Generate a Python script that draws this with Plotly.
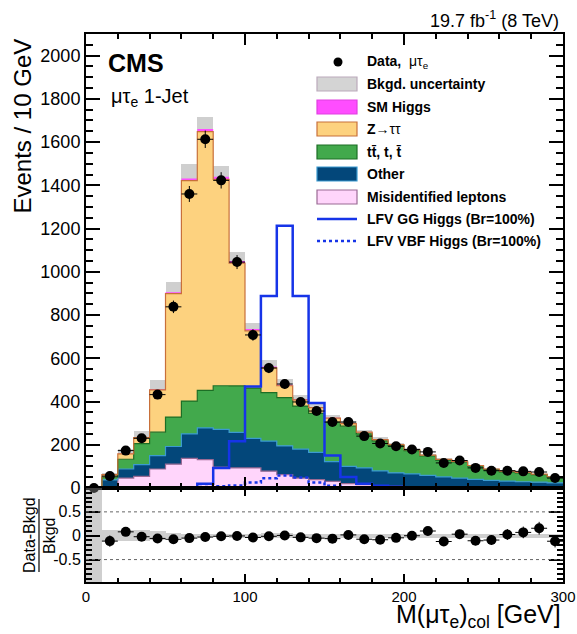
import numpy as np
import plotly.graph_objects as go

# ---------------- data ----------------
bin_edges = list(range(0, 310, 10))
bin_centers = [e + 5 for e in bin_edges[:-1]]

data_counts = [0, 55, 173, 230, 432, 838, 1360, 1613, 1423, 1045, 708, 555, 481, 398, 356,
               305, 305, 240, 206, 193, 178, 167, 116, 127, 93, 80, 80, 77, 74, 46]

misid_leptons = [0, 5, 46, 54, 88, 110, 137, 131, 97, 93, 93, 78, 62, 46, 39,
                 31, 20, 15, 11, 8, 6, 5, 4, 3, 3, 2, 2, 2, 1, 1]
other_bkg = [1, 33, 42, 54, 62, 82, 113, 147, 174, 164, 137, 139, 133, 134, 126,
             91, 80, 78, 68, 62, 59, 53, 47, 43, 37, 33, 30, 27, 26, 23]
ttbar_top = [0.5, 12, 45, 97, 108, 136, 152, 174, 202, 215, 232, 224, 223, 199, 180,
             183, 186, 157, 139, 126, 108, 90, 77, 73, 61, 50, 43, 41, 35, 26]
z_tautau = [0.5, 12, 25, 28, 196, 571, 1020, 1196, 955, 568, 265, 115, 55, 29, 27,
            18, 12, 8, 6, 5, 4.5, 4, 4, 4, 3, 3, 3, 2, 2, 2]
sm_higgs = [0, 0, 2, 2, 4, 6, 10, 12, 12, 10, 8, 6, 5, 4, 3,
            2, 2, 1, 1, 1, 0.5, 0, 0, 0, 0, 0, 0, 0, 0, 0]
bkg_rel_unc = [2.0, 0.12, 0.12, 0.12, 0.09, 0.055, 0.045, 0.035, 0.035, 0.04, 0.04, 0.05, 0.05, 0.045, 0.04,
               0.04, 0.04, 0.04, 0.04, 0.04, 0.04, 0.04, 0.04, 0.04, 0.04, 0.04, 0.04, 0.04, 0.04, 0.04]
lfv_gg_higgs = [0, 0, 0, 0, 0, 1, 3, 20, 93, 216, 470, 888, 1213, 888, 393,
                150, 51, 20, 10, 6, 4, 3, 2, 2, 1, 1, 1, 1, 0, 0]
lfv_vbf_higgs = [0, 0, 0, 0, 0, 0, 2, 5, 8, 12, 25, 45, 58, 48, 25,
                 10, 4, 2, 1, 1, 0, 0, 0, 0, 0, 0, 0, 0, 0, 0]

x_ticks = [0, 100, 200, 300]
y_ticks = list(range(0, 2001, 200))
ratio_ticks = [-0.5, 0, 0.5]
ratio_ticktext = ["-0.5", "0", "0.5"]

# ---------------- styling ----------------
FONT = "Liberation Sans, Arial, Helvetica, sans-serif"
W, H = 577, 634                        # browser window
L, R, T, B = 86, 563, 34, 582          # plot-area box in window pixels
SPLIT = 488                            # boundary between main and ratio pad
split_frac = (B - SPLIT) / (B - T)

components = [
    ("Misidentified leptons", misid_leptons, "#FFD5FB", "#9A6A94", 1.2),
    ("Other", other_bkg, "#03477A", "#3A9AD0", 1.2),
    ("tt̄, t, t̄", ttbar_top, "#42A94C", "#1C6E25", 1.2),
    ("Z→ττ", z_tautau, "#FDD27F", "#C8703A", 1.2),
    ("SM Higgs", sm_higgs, "#FF4DFF", "#FF4DFF", 0),
]
GG_BLUE = "#1634E8"


def px(x):
    return (x - L) / (R - L)


def py(y):
    return (B - y) / (B - T)


def step(vals):
    v = list(vals)
    return v + [v[-1]]


fig = go.Figure()

# stacked backgrounds
cum = np.zeros(len(bin_centers))
for i, (name, vals, fill, line, lw) in enumerate(components):
    cum = cum + np.array(vals, dtype=float)
    fig.add_trace(go.Scatter(
        x=bin_edges, y=step(cum), mode="lines", line=dict(color=line, width=lw, shape="hv"),
        fill="tozeroy" if i == 0 else "tonexty", fillcolor=fill, name=name,
        xaxis="x", yaxis="y", hoverinfo="skip"))
total_bkg = cum.copy()
unc = np.array(bkg_rel_unc)

# background uncertainty band
fig.add_trace(go.Bar(
    x=bin_centers, y=2 * total_bkg * unc, base=total_bkg * (1 - unc), width=10,
    marker=dict(color="rgba(140,140,140,0.42)", line=dict(width=0)),
    xaxis="x", yaxis="y", hoverinfo="skip"))

# LFV signals
fig.add_trace(go.Scatter(
    x=bin_edges, y=step(lfv_gg_higgs), mode="lines",
    line=dict(color=GG_BLUE, width=2.5, shape="hv"), xaxis="x", yaxis="y"))
fig.add_trace(go.Scatter(
    x=bin_edges, y=step(lfv_vbf_higgs), mode="lines",
    line=dict(color=GG_BLUE, width=2.5, shape="hv", dash="dot"), xaxis="x", yaxis="y"))

# data
data_arr = np.array(data_counts, dtype=float)
fig.add_trace(go.Scatter(
    x=bin_centers, y=data_counts, mode="markers",
    marker=dict(color="black", size=10),
    error_y=dict(type="data", array=np.sqrt(data_arr), color="black", thickness=1, width=0),
    error_x=dict(type="constant", value=5, color="black", thickness=1, width=0),
    cliponaxis=False, xaxis="x", yaxis="y"))

# ratio panel
fig.add_trace(go.Bar(
    x=bin_centers, y=2 * unc, base=-unc, width=10,
    marker=dict(color="rgba(140,140,140,0.42)", line=dict(width=0)),
    xaxis="x2", yaxis="y2", hoverinfo="skip"))
ratio = [None if d == 0 else (d - b) / b for d, b in zip(data_arr, total_bkg)]
ratio_err = [0 if d == 0 else np.sqrt(d) / b for d, b in zip(data_arr, total_bkg)]
fig.add_trace(go.Scatter(
    x=bin_centers, y=ratio, mode="markers", marker=dict(color="black", size=10),
    error_y=dict(type="data", array=ratio_err, color="black", thickness=1, width=0),
    error_x=dict(type="constant", value=5, color="black", thickness=1, width=0),
    xaxis="x2", yaxis="y2"))

shapes = []
for yv in [0.5, -0.5]:
    shapes.append(dict(type="line", xref="x2", yref="y2", x0=0, x1=300, y0=yv, y1=yv,
                       line=dict(color="#666666", width=1, dash="dot")))

# ---------------- manual legend ----------------
annotations = []
row_y = [62, 84, 107, 129, 152, 174, 197, 219, 241]
bx0, bx1, tx = 317, 357, 365
shapes.append(dict(type="circle", xref="paper", yref="paper",
                   x0=px(333.5), x1=px(342.5), y0=py(66.5), y1=py(57.5),
                   fillcolor="black", line=dict(color="black", width=0)))
annotations.append(dict(x=px(tx), y=py(row_y[0]), xref="paper", yref="paper",
                        text="<b>Data,</b>  μτ<sub>e</sub>", showarrow=False,
                        xanchor="left", yanchor="middle", font=dict(size=14, family=FONT)))
legend_boxes = [("<b>Bkgd. uncertainty</b>", "#D4D4D4", "#BBAABB"),
                ("<b>SM Higgs</b>", components[4][2], "#E040E0"),
                ("<b>Z</b>→ττ", components[3][2], components[3][3]),
                ("<b>tt̄, t, t̄</b>", components[2][2], components[2][3]),
                ("<b>Other</b>", components[1][2], components[1][3]),
                ("<b>Misidentified leptons</b>", components[0][2], components[0][3])]
for k, (label, fill, line) in enumerate(legend_boxes):
    yc = row_y[k + 1]
    shapes.append(dict(type="rect", xref="paper", yref="paper",
                       x0=px(bx0), x1=px(bx1), y0=py(yc + 7), y1=py(yc - 7),
                       fillcolor=fill, line=dict(color=line, width=1.2)))
    annotations.append(dict(x=px(tx), y=py(yc), xref="paper", yref="paper", text=label,
                            showarrow=False, xanchor="left", yanchor="middle",
                            font=dict(size=14, family=FONT)))
for k, (label, dash) in enumerate([("<b>LFV GG Higgs (Br=100%)</b>", "solid"),
                                   ("<b>LFV VBF Higgs (Br=100%)</b>", "dot")]):
    yc = row_y[7 + k]
    shapes.append(dict(type="line", xref="paper", yref="paper",
                       x0=px(bx0), x1=px(bx1), y0=py(yc), y1=py(yc),
                       line=dict(color=GG_BLUE, width=2.5, dash=dash)))
    annotations.append(dict(x=px(tx), y=py(yc), xref="paper", yref="paper", text=label,
                            showarrow=False, xanchor="left", yanchor="middle",
                            font=dict(size=14, family=FONT)))

# ---------------- texts ----------------
annotations += [
    dict(x=px(106), y=py(63), xref="paper", yref="paper", text="<b>CMS</b>", showarrow=False,
         xanchor="left", yanchor="middle", font=dict(size=25, family=FONT)),
    dict(x=px(109), y=py(97), xref="paper", yref="paper", text="μτ<sub>e</sub> 1-Jet",
         showarrow=False, xanchor="left", yanchor="middle", font=dict(size=20, family=FONT)),
    dict(x=px(561), y=py(20), xref="paper", yref="paper", text="19.7 fb<sup>-1</sup> (8 TeV)",
         showarrow=False, xanchor="right", yanchor="middle", font=dict(size=18, family=FONT)),
    dict(x=px(563), y=py(634), xref="paper", yref="paper",
         text="M(μτ<sub>e</sub>)<sub>col</sub> [GeV]", showarrow=False,
         xanchor="right", yanchor="bottom", font=dict(size=25, family=FONT)),
    dict(x=px(22), y=py(37), xref="paper", yref="paper", text="Events / 10 GeV",
         textangle=-90, showarrow=False, xanchor="center", yanchor="top",
         font=dict(size=24, family=FONT)),
    dict(x=px(29), y=py(535), xref="paper", yref="paper", text="Data-Bkgd",
         textangle=-90, showarrow=False, xanchor="center", yanchor="middle",
         font=dict(size=16, family=FONT)),
    dict(x=px(49), y=py(536), xref="paper", yref="paper", text="Bkgd",
         textangle=-90, showarrow=False, xanchor="center", yanchor="middle",
         font=dict(size=16, family=FONT)),
]
shapes.append(dict(type="line", xref="paper", yref="paper", x0=px(39), x1=px(39),
                   y0=py(499), y1=py(572), line=dict(color="black", width=1.2)))

axis_common = dict(showline=True, linecolor="black", linewidth=2, mirror="ticks",
                   ticks="inside", tickcolor="black", showgrid=False, zeroline=False,
                   automargin=False,
                   tickfont=dict(size=18, family=FONT, color="black"))

fig.update_layout(
    width=W, height=H, autosize=False,
    margin=dict(l=L, r=W - R, t=T, b=H - B, pad=0),
    paper_bgcolor="white", plot_bgcolor="white",
    showlegend=False, barmode="overlay", bargap=0,
    font=dict(family=FONT, color="black"),
    xaxis=dict(domain=[0, 1], anchor="y", range=[0, 300], tickvals=x_ticks,
               showticklabels=False, ticklen=11, tickwidth=1.5,
               minor=dict(dtick=20, tick0=0, ticklen=5, ticks="inside", tickcolor="black"),
               **{k: v for k, v in axis_common.items() if k != "tickfont"}),
    yaxis=dict(domain=[split_frac, 1], anchor="x", range=[0, 2100], tickvals=y_ticks,
               ticklen=14, tickwidth=1.5,
               minor=dict(dtick=50, tick0=0, ticklen=7, ticks="inside", tickcolor="black"),
               **axis_common),
    xaxis2=dict(domain=[0, 1], anchor="y2", range=[0, 300], tickvals=x_ticks,
                ticklen=8, tickwidth=1.5, ticklabelstandoff=0,
                minor=dict(dtick=20, tick0=0, ticklen=4, ticks="inside", tickcolor="black"),
                **{**axis_common, "tickfont": dict(size=15, family=FONT, color="black")}),
    yaxis2=dict(domain=[0, split_frac], anchor="x2", range=[-0.97, 1.0],
                tickvals=ratio_ticks, ticktext=ratio_ticktext, ticklen=14, tickwidth=1.5,
                minor=dict(tickvals=[round(v, 1) for v in np.arange(-0.9, 1.0, 0.1)],
                           ticklen=6, ticks="inside", tickcolor="black"),
                **{**axis_common, "tickfont": dict(size=16, family=FONT, color="black")}),
    shapes=shapes, annotations=annotations,
)

# remove the browser's default page margin so the figure fills the window exactly
fig.write_html("out.html", config={"displayModeBar": False},
               post_script="document.body.style.margin='0px';document.body.style.overflow='hidden';")
